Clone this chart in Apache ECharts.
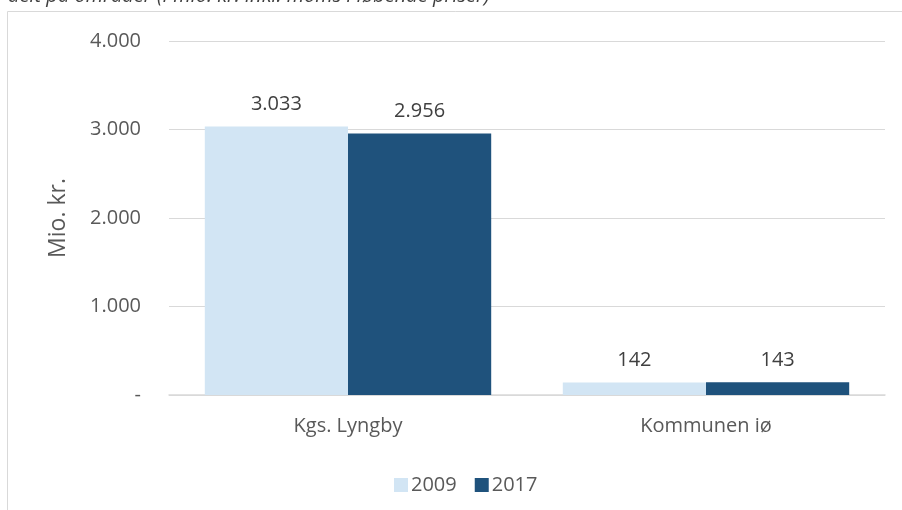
<!DOCTYPE html>
<html>
<head>
<meta charset="utf-8">
<script src="https://cdn.jsdelivr.net/npm/echarts@6/dist/echarts.min.js"></script>
<style>
  html, body { margin: 0; padding: 0; background: #fff; }
  #chart { width: 902px; height: 510px; }
</style>
</head>
<body>
<div id="chart"></div>
<script>
const categories = ['Kgs. Lyngby', 'Kommunen iø']
const years = ['2009', '2017']
const values2009 = [3033, 142]
const values2017 = [2956, 143]
const yTicks = [0, 1000, 2000, 3000, 4000]

const font = '"Open Sans", sans-serif'
const textColor = '#595959'

// 3033 -> "3.033", 0 -> "-"
function fmt(v) {
  if (v === 0) return '-'
  return String(Math.round(v)).replace(/\B(?=(\d{3})+(?!\d))/g, '.')
}

const chart = echarts.init(document.getElementById('chart'))
chart.setOption({
  animation: false,
  textStyle: { fontFamily: font },
  graphic: [
    {
      type: 'rect',
      shape: { x: 7.5, y: 11.5, width: 1000, height: 600 },
      style: { fill: 'none', stroke: '#d9d9d9', lineWidth: 1 },
      silent: true
    },
    {
      type: 'text',
      x: 8,
      y: -4,
      style: {
        text: 'delt på områder (I mio. kr. inkl. moms i løbende priser)',
        font: 'italic 20px "Open Sans", sans-serif',
        fill: '#404040',
        verticalAlign: 'middle'
      },
      silent: true
    }
  ],
  legend: {
    left: 389,
    top: 470,
    itemWidth: 14,
    itemHeight: 14,
    itemGap: 18,
    icon: 'rect',
    textStyle: { fontSize: 20, color: textColor, fontFamily: font, padding: [0, 0, 0, -2] },
    data: years
  },
  grid: {
    left: 169,
    right: 17,
    top: 41,
    bottom: 115,
    containLabel: false
  },
  xAxis: {
    type: 'category',
    data: categories,
    axisLine: { lineStyle: { color: '#d9d9d9', width: 1.5 } },
    axisTick: { show: false },
    axisLabel: { fontSize: 20, color: textColor, margin: 21 }
  },
  yAxis: {
    type: 'value',
    min: yTicks[0],
    max: yTicks[yTicks.length - 1],
    interval: 1000,
    name: 'Mio. kr.',
    nameLocation: 'middle',
    nameGap: 99,
    nameTextStyle: { fontSize: 23, color: textColor },
    axisLine: { show: false },
    axisTick: { show: false },
    splitLine: { lineStyle: { color: '#d9d9d9', width: 1 } },
    axisLabel: {
      fontSize: 20,
      color: textColor,
      margin: 28,
      formatter: fmt
    }
  },
  series: [
    {
      name: years[0],
      type: 'bar',
      data: values2009,
      barGap: '0%',
      barCategoryGap: '20%',
      itemStyle: { color: '#d2e5f4' },
      label: {
        show: true,
        position: 'top',
        distance: 12,
        fontSize: 20,
        color: '#404040',
        formatter: p => fmt(p.value)
      }
    },
    {
      name: years[1],
      type: 'bar',
      data: values2017,
      barGap: '0%',
      barCategoryGap: '20%',
      itemStyle: { color: '#1f527c' },
      label: {
        show: true,
        position: 'top',
        distance: 12,
        fontSize: 20,
        color: '#404040',
        formatter: p => fmt(p.value)
      }
    }
  ]
})
</script>
</body>
</html>
